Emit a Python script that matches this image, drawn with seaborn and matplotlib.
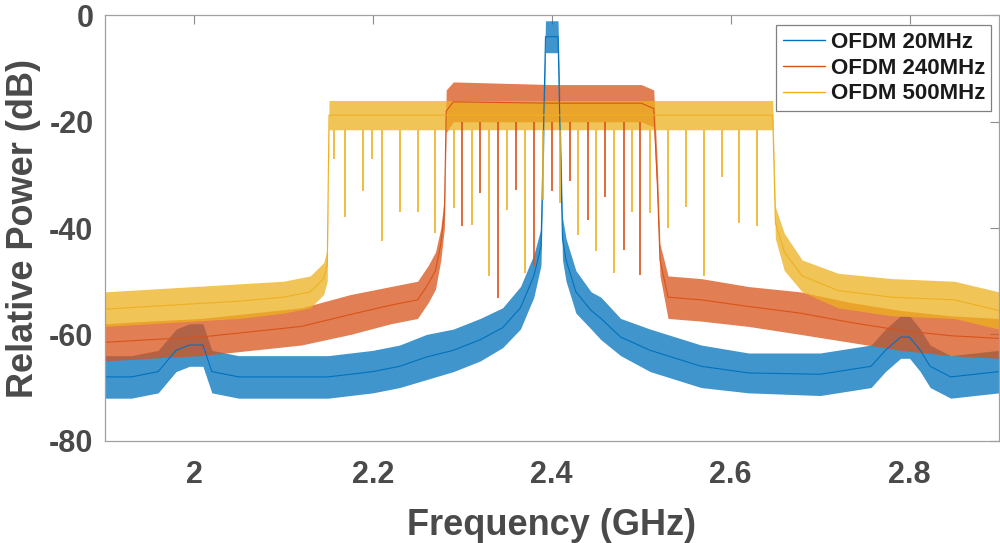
# -*- coding: utf-8 -*-

import matplotlib
matplotlib.use('Agg')
import matplotlib.pyplot as plt
import pandas as pd
import seaborn as sns

# values (frequency in GHz, power in dB)
# each series: lower and upper edge of the noise band at some frequencies
f20 = [1.900, 1.930, 1.960, 1.980, 1.995, 2.010, 2.020, 2.050, 2.100, 2.150,
       2.200, 2.230, 2.260, 2.290, 2.320, 2.345, 2.365, 2.380, 2.388, 2.391,
       2.393, 2.400, 2.407, 2.409, 2.412, 2.416, 2.427, 2.444, 2.455, 2.477,
       2.510, 2.567, 2.620, 2.700, 2.757, 2.773, 2.790, 2.800, 2.812, 2.823,
       2.846, 2.900]
lo20 = [-72, -72, -71, -67, -66, -66, -71, -72, -72, -72,
        -71, -70, -68.5, -67, -65, -62.5, -59, -53, -47, -25,
        -7, -7, -7, -25, -46, -50, -56, -59, -61, -64,
        -67, -70, -71, -71.5, -70, -67, -64.5, -64.5, -67, -70,
        -72, -71]
hi20 = [-64, -64, -63, -59, -58, -58, -63, -64, -64, -64,
        -63, -62, -60, -59, -57, -55, -51, -45, -40, -15,
        -1, -1, -1, -15, -38, -42, -48, -52, -53, -57,
        -59, -62, -63.5, -63.5, -62, -59, -56.5, -56.5, -59, -62,
        -64, -63]

f240 = [1.900, 1.950, 2.008, 2.064, 2.120, 2.175, 2.220, 2.250, 2.262, 2.270,
        2.276, 2.280, 2.282, 2.290, 2.400, 2.500, 2.514, 2.518, 2.521, 2.530,
        2.567, 2.620, 2.678, 2.734, 2.790, 2.846, 2.900]
lo240 = [-65, -64.5, -64, -63, -62, -60, -58, -57, -54, -51.5,
         -46, -40, -22, -20, -20, -20, -21, -35, -49, -57,
         -57.5, -58.5, -60, -61.5, -63, -64, -64.5]
hi240 = [-58, -57.5, -57, -56, -55, -52.5, -51, -50, -47, -44.5,
         -40, -34, -14, -12.5, -13, -13, -14, -28, -43, -49,
         -49.5, -51, -52, -54, -55.5, -56.5, -57]

f500 = [1.900, 1.950, 2.000, 2.050, 2.100, 2.130, 2.145, 2.149, 2.151, 2.200,
        2.300, 2.400, 2.500, 2.600, 2.647, 2.650, 2.660, 2.680, 2.720, 2.780,
        2.850, 2.900]
lo500 = [-58.5, -58, -57.5, -57, -56, -55, -52.5, -50, -21.5, -21.5,
         -21.5, -21.5, -21.5, -21.5, -21.5, -42, -48, -52, -55, -56.5,
         -57, -59]
hi500 = [-52, -51.5, -51, -50.5, -50, -49, -46.5, -44, -16, -16,
         -16, -16, -16, -16, -16, -36, -41, -46, -48.5, -49.5,
         -50, -52]

# deep notches inside the flat parts
dip240_f = [2.300, 2.320, 2.340, 2.360, 2.380, 2.400, 2.420, 2.440, 2.460, 2.481, 2.499]
dip240_db = [-39.7, -33.4, -53.1, -32.8, -47.2, -33.1, -31.2, -38.4, -34.1, -44.1, -48.8]
dip500_f = [2.157, 2.169, 2.189, 2.199, 2.210, 2.230, 2.250, 2.270, 2.291, 2.311,
            2.330, 2.350, 2.370, 2.390, 2.409, 2.429, 2.450, 2.470, 2.490, 2.510,
            2.530, 2.550, 2.570, 2.590, 2.609, 2.629]
dip500_db = [-27, -38, -33, -27, -42.5, -37, -37, -41, -36.3, -39.4,
             -49, -36.6, -48.5, -34.7, -35.3, -41.3, -44.4, -48.5, -36.9, -37.2,
             -40, -36, -49, -30.3, -39, -39.7]

names = ['OFDM 20MHz', 'OFDM 240MHz', 'OFDM 500MHz']
colors = ['#0072BD', '#D95319', '#EDB120']
xticks = [2.0, 2.2, 2.4, 2.6, 2.8]
xtick_labels = ['2', '2.2', '2.4', '2.6', '2.8']
yticks = [-80, -60, -40, -20, 0]

rows = []
for name, f, lo, hi in zip(names, [f20, f240, f500], [lo20, lo240, lo500], [hi20, hi240, hi500]):
    for fi, l, h in zip(f, lo, hi):
        rows.append((name, fi, l))
        rows.append((name, fi, h))
df = pd.DataFrame(rows, columns=['signal', 'freq', 'power'])

sns.set_theme(style='white')
plt.rcParams['font.family'] = ['Liberation Sans', 'DejaVu Sans']
plt.rcParams['font.weight'] = 'bold'
plt.rcParams['axes.unicode_minus'] = False

fig, ax = plt.subplots(figsize=(10, 5.43), dpi=100)
fig.subplots_adjust(left=0.1045, right=0.999, top=0.9715, bottom=0.1884)

sns.lineplot(data=df, x='freq', y='power', hue='signal', palette=colors,
             estimator='mean', errorbar=('pi', 100),
             err_kws={'alpha': 0.75, 'linewidth': 0}, linewidth=0.8, ax=ax)

ax.vlines(dip240_f, dip240_db, -20, color=colors[1], linewidth=1.2)
ax.vlines(dip500_f, dip500_db, -21.5, color=colors[2], linewidth=1.2)

ax.set_xlim(1.9, 2.9)
ax.set_ylim(-80, 0)
ax.set_xticks(xticks)
ax.set_xticklabels(xtick_labels)
ax.set_yticks(yticks)

txt = '#4a4a4a'
ax.tick_params(direction='in', length=6.5, width=0.8, color='#8c8c8c',
               top=True, right=True, labelsize=22, labelcolor=txt)
ax.tick_params(axis='x', pad=14)
ax.tick_params(axis='y', pad=8)
for s in ax.spines.values():
    s.set_color('#a0a0a0')
    s.set_linewidth(0.9)

ax.set_xlabel('Frequency (GHz)', fontsize=26, fontweight='bold', color=txt, labelpad=13)
ax.set_ylabel('Relative Power (dB)', fontsize=26, fontweight='bold', color=txt, labelpad=6)

leg = ax.legend(loc='upper right', bbox_to_anchor=(0.9916, 0.9777), borderaxespad=0,
                fontsize=16, frameon=True, fancybox=False, framealpha=1,
                handlelength=1.9, handletextpad=0.25, labelspacing=0.22, borderpad=0.3)
leg.get_frame().set_edgecolor('#808080')
leg.get_frame().set_linewidth(0.9)
for t in leg.get_texts():
    t.set_color('#1a1a1a')
    t.set_fontweight('bold')
for h in leg.get_lines():
    h.set_linewidth(1.0)

plt.savefig('out.png', dpi=100)
